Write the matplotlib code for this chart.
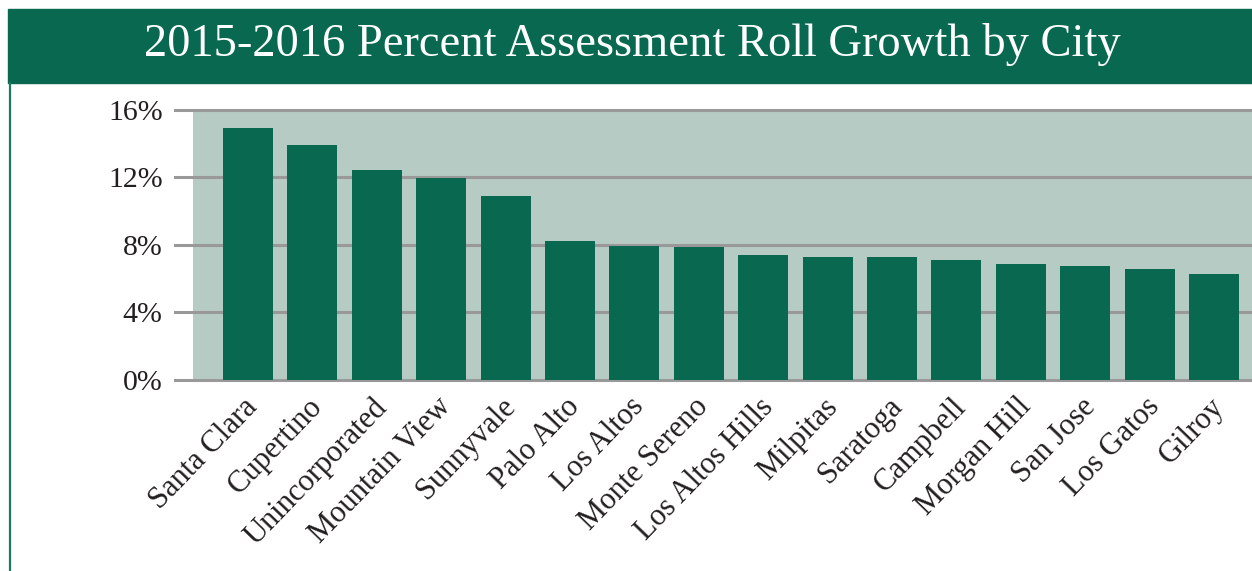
import matplotlib.pyplot as plt
from matplotlib.patches import Rectangle
from matplotlib.lines import Line2D
from matplotlib.transforms import ScaledTranslation

cities = [
    "Santa Clara", "Cupertino", "Unincorporated", "Mountain View", "Sunnyvale",
    "Palo Alto", "Los Altos", "Monte Sereno", "Los Altos Hills", "Milpitas",
    "Saratoga", "Campbell", "Morgan Hill", "San Jose", "Los Gatos", "Gilroy",
]
growth_pct = [14.9, 13.9, 12.4, 11.95, 10.9, 8.25, 7.9, 7.85, 7.4, 7.25,
              7.25, 7.1, 6.85, 6.75, 6.55, 6.25]
y_ticks = [0, 4, 8, 12, 16]
y_labels = ["0%", "4%", "8%", "12%", "16%"]

green = "#086850"
panel = "#b6cbc4"
grid_gray = "#999999"
serif = ["Liberation Serif", "DejaVu Serif"]

fig = plt.figure(figsize=(12.52, 5.71), dpi=100)

# title banner and left frame line
fig.patches.append(Rectangle((8 / 1252, 1 - 83 / 571), 1 - 8 / 1252, 74 / 571,
                             transform=fig.transFigure, color=green, zorder=0))
fig.lines.append(Line2D([9.5 / 1252, 9.5 / 1252], [0, 1 - 83 / 571],
                        transform=fig.transFigure, color="#1c7a5e", lw=1.6))
fig.text(0.505, 1 - 45 / 571, "2015-2016 Percent Assessment Roll Growth by City",
         color="white", ha="center", va="center", fontsize=33.5, family=serif)

ax = fig.add_axes([175 / 1252, 1 - 380 / 571, 1 - 175 / 1252, 270.5 / 571])
x = list(range(len(cities)))
step = 64.4
x_left = -(248 - 175) / step
x_right = (1252 - 248) / step
ax.set_xlim(x_left, x_right)
ax.set_ylim(0, 16)

ax.axvspan(-(248 - 193) / step, x_right, color=panel, zorder=0, lw=0)
for t in y_ticks:
    ax.axhline(t, color=grid_gray, lw=2.2, zorder=1, clip_on=False)

ax.bar(x, growth_pct, width=50 / step, color=green, zorder=2)

for s in ax.spines.values():
    s.set_visible(False)
ax.set_yticks(y_ticks)
ax.set_yticklabels(y_labels, family=serif, fontsize=21.5, color="#231f20")
ax.set_xticks(x)
ax.set_xticklabels(cities, rotation=46, ha="right", rotation_mode="anchor",
                   family=serif, fontsize=22, color="#231f20")
ax.tick_params(length=0, axis="y", pad=9)
ax.tick_params(length=0, axis="x", pad=9)

# nudge the slanted city names a little to the left
shift = ScaledTranslation(-5 / 100, 0, fig.dpi_scale_trans)
for lbl in ax.get_xticklabels():
    lbl.set_transform(lbl.get_transform() + shift)

fig.savefig("out.png", dpi=100)
